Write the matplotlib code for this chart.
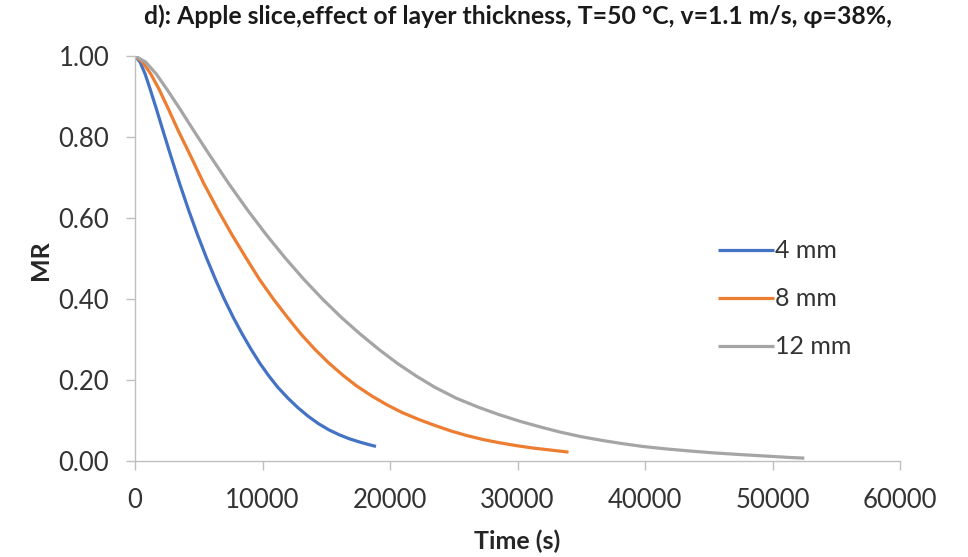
import matplotlib.pyplot as plt

# drying curves, moisture ratio vs time for three slice thicknesses
t_4mm = [0, 400, 800, 1200, 1700, 2200, 2800, 3500, 4200, 4900, 5600, 6300,
         7000, 7700, 8400, 9100, 9800, 10500, 11200, 12000, 12800, 13600,
         14400, 15200, 16000, 16800, 17600, 18400, 18900]
mr_4mm = [1.000, 0.985, 0.955, 0.917, 0.867, 0.815, 0.754, 0.685, 0.620,
          0.559, 0.502, 0.449, 0.400, 0.355, 0.314, 0.276, 0.241, 0.210,
          0.182, 0.155, 0.131, 0.110, 0.092, 0.077, 0.065, 0.055, 0.047,
          0.040, 0.036]

t_8mm = [0, 600, 1250, 1900, 2650, 3400, 4350, 5400, 6500, 7600, 8700, 9750,
         10850, 11950, 13000, 14100, 15200, 16300, 17350, 18600, 19800, 21000,
         22300, 23500, 24800, 26000, 27300, 28600, 29900, 31200, 32600, 34000]
mr_8mm = [1.000, 0.985, 0.955, 0.917, 0.867, 0.815, 0.754, 0.685, 0.620,
          0.559, 0.502, 0.449, 0.400, 0.355, 0.314, 0.276, 0.242, 0.212,
          0.186, 0.160, 0.138, 0.119, 0.102, 0.088, 0.074, 0.063, 0.053,
          0.045, 0.038, 0.032, 0.027, 0.022]

t_12mm = [0, 840, 1680, 2520, 3570, 4620, 5880, 7350, 8820, 10290, 11760,
          13230, 14700, 16170, 17640, 19110, 20580, 22050, 23520, 25200,
          27000, 28600, 30200, 31800, 33400, 35000, 36600, 38200, 39800,
          41600, 43400, 45400, 47400, 49600, 51200, 52500]
mr_12mm = [1.000, 0.985, 0.955, 0.917, 0.867, 0.815, 0.754, 0.685, 0.620,
           0.559, 0.502, 0.449, 0.400, 0.355, 0.314, 0.276, 0.241, 0.210,
           0.182, 0.155, 0.132, 0.114, 0.098, 0.084, 0.071, 0.060, 0.051,
           0.043, 0.036, 0.030, 0.025, 0.020, 0.016, 0.012, 0.009, 0.007]

labels = ['4 mm', '8 mm', '12 mm']
colors = ['#4472C4', '#ED7D31', '#A5A5A5']

x_ticks = [0, 10000, 20000, 30000, 40000, 50000, 60000]
y_ticks = [0.0, 0.2, 0.4, 0.6, 0.8, 1.0]

plt.rcParams['font.family'] = ['Lato', 'DejaVu Sans']

fig = plt.figure(figsize=(9.68, 5.57), dpi=100)
ax = fig.add_axes([135 / 968, 1 - 461 / 557, 765 / 968, 405 / 557])

series = [(t_4mm, mr_4mm), (t_8mm, mr_8mm), (t_12mm, mr_12mm)]
for (t, mr), lab, col in zip(series, labels, colors):
    ax.plot(t, mr, color=col, lw=2.3, label=lab, solid_capstyle='butt')

ax.set_xlim(0, 60000)
ax.set_ylim(0, 1.0)
ax.set_xticks(x_ticks)
ax.set_xticklabels([str(v) for v in x_ticks])
ax.set_yticks(y_ticks)
ax.set_yticklabels(['%.2f' % v for v in y_ticks])

for side in ['top', 'right']:
    ax.spines[side].set_visible(False)
for side in ['left', 'bottom']:
    ax.spines[side].set_color('#BFBFBF')
    ax.spines[side].set_linewidth(1.0)

ax.tick_params(axis='both', direction='out', length=6.5, width=1.0,
               color='#BFBFBF', labelcolor='#333333', labelsize=18.5)
ax.tick_params(axis='y', pad=12)
ax.tick_params(axis='x', pad=13)

ax.set_xlabel('Time (s)', fontsize=18, fontweight='bold', color='#262626')
ax.set_ylabel('MR', fontsize=18, fontweight='bold', color='#262626')
ax.xaxis.set_label_coords(0.499, -0.17)
ax.yaxis.set_label_coords(-0.108, 0.496)
fig.text(0.535, 0.971,
         'd): Apple slice,effect of layer thickness, T=50 °C, v=1.1 m/s, φ=38%,',
         ha='center', va='center', fontsize=17.8, fontweight='bold',
         color='#1a1a1a')

leg = ax.legend(loc='center left', bbox_to_anchor=(0.762, 0.40),
                frameon=False, fontsize=18, handlelength=2.25,
                handletextpad=0.05, labelspacing=1.0, borderaxespad=0,
                borderpad=0)
for txt in leg.get_texts():
    txt.set_color('#333333')

fig.savefig('out.png', dpi=100)
